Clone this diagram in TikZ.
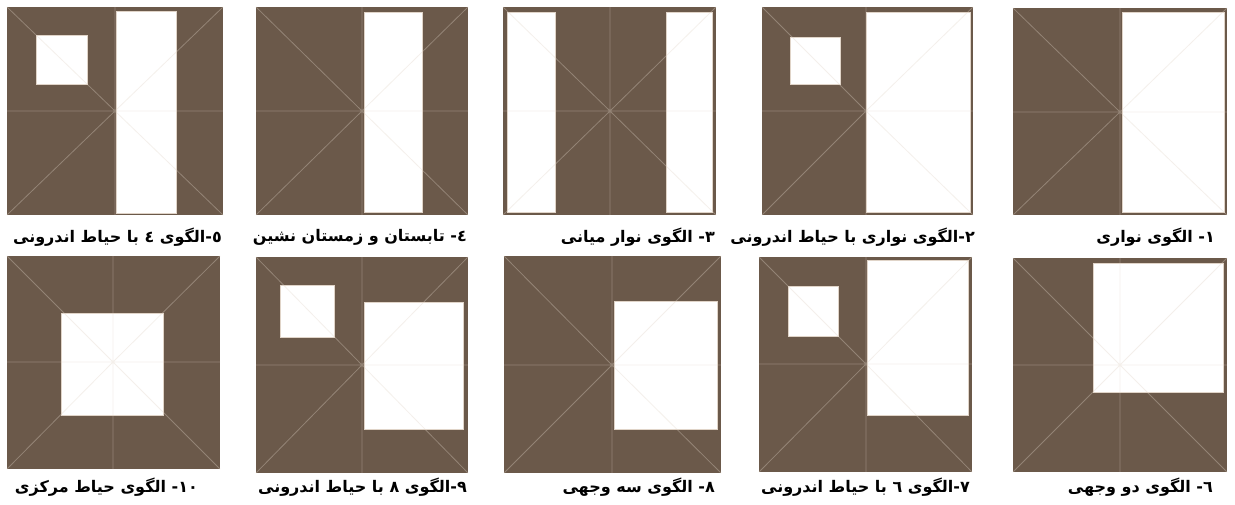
\documentclass[tikz,border=0pt]{standalone}
\usepackage{fontspec}
\newfontfamily\arabicfont[Script=Arabic]{DejaVu Sans}
\TeXXeTstate=1
\definecolor{cwall}{HTML}{6B594A}
\definecolor{cline}{HTML}{E0D4C8}
\tikzset{
  every picture/.style={x=1pt, y=-1pt},
  wall/.style={fill=cwall},
  axis/.style={draw=cline, draw opacity=0.35, line width=0.8pt},
  yard/.style={fill=white, draw=cline, line width=0.6pt},
  caption/.style={font=\arabicfont\bfseries\fontsize{16}{18}\selectfont, inner sep=0pt, anchor=east},
}

\begin{document}
\begin{tikzpicture}
  \newcommand{\plan}[6]{%
    \draw[axis] (#1,#2) -- (#5,#6) -- (#3,#4) (#3,#2) -- (#5,#6) -- (#1,#4)
                (#1,#6) -- (#3,#6) (#5,#2) -- (#5,#4);}
  \useasboundingbox[fill=white] (0,0) rectangle (1235,505);

  % first row
  \fill[wall] (1013,8) rectangle (1227,215);
  \fill[yard] (1122,12) rectangle (1224,212);
  \plan{1013}{8}{1227}{215}{1120}{112}
  \node[caption] (c1) at (1215,237) {\beginR ١- الگوی نواری\endR};

  \fill[wall] (762,7) rectangle (973,215);
  \fill[yard] (790,37) rectangle (840,84);
  \fill[yard] (866,12) rectangle (970,212);
  \plan{762}{7}{973}{215}{866}{111}
  \node[caption] (c2) at (975,237) {\beginR ٢-الگوی نواری با حیاط اندرونی\endR};

  \fill[wall] (503,7) rectangle (716,215);
  \fill[yard] (507,12) rectangle (555,212);
  \fill[yard] (666,12) rectangle (712,212);
  \plan{503}{7}{716}{215}{610}{111}
  \node[caption] (c3) at (715,237) {\beginR ٣- الگوی نوار میانی\endR};

  \fill[wall] (256,7) rectangle (468,215);
  \fill[yard] (364,12) rectangle (422,212);
  \plan{256}{7}{468}{215}{362}{111}
  \node[caption] (c4) at (467,237) {\beginR ٤- تابستان و زمستان نشین\endR};

  \fill[wall] (7,7) rectangle (223,215);
  \fill[yard] (36,35) rectangle (87,84);
  \fill[yard] (116,11) rectangle (176,213);
  \plan{7}{7}{223}{215}{115}{111}
  \node[caption] (c5) at (222,237) {\beginR ٥-الگوی ٤ با حیاط اندرونی\endR};

  % second row
  \fill[wall] (1013,258) rectangle (1227,472);
  \fill[yard] (1093,263) rectangle (1223,392);
  \plan{1013}{258}{1227}{472}{1120}{365}
  \node[caption] (c6) at (1213,487) {\beginR ٦- الگوی دو وجهی\endR};

  \fill[wall] (759,257) rectangle (972,472);
  \fill[yard] (788,286) rectangle (838,336);
  \fill[yard] (867,260) rectangle (968,415);
  \plan{759}{257}{972}{472}{866}{364}
  \node[caption] (c7) at (970,487) {\beginR ٧-الگوی ٦ با حیاط اندرونی\endR};

  \fill[wall] (504,256) rectangle (721,473);
  \fill[yard] (614,301) rectangle (717,429);
  \plan{504}{256}{721}{473}{612}{365}
  \node[caption] (c8) at (715,487) {\beginR ٨- الگوی سه وجهی\endR};

  \fill[wall] (256,257) rectangle (468,473);
  \fill[yard] (280,285) rectangle (334,337);
  \fill[yard] (364,302) rectangle (463,429);
  \plan{256}{257}{468}{473}{362}{365}
  \node[caption] (c9) at (467,487) {\beginR ٩-الگوی ٨ با حیاط اندرونی\endR};

  \fill[wall] (7,256) rectangle (220,469);
  \fill[yard] (61,313) rectangle (163,415);
  \plan{7}{256}{220}{469}{113}{362}
  \node[caption] (c10) at (198,487) {\beginR ١٠- الگوی حیاط مرکزی\endR};
\end{tikzpicture}
\end{document}
